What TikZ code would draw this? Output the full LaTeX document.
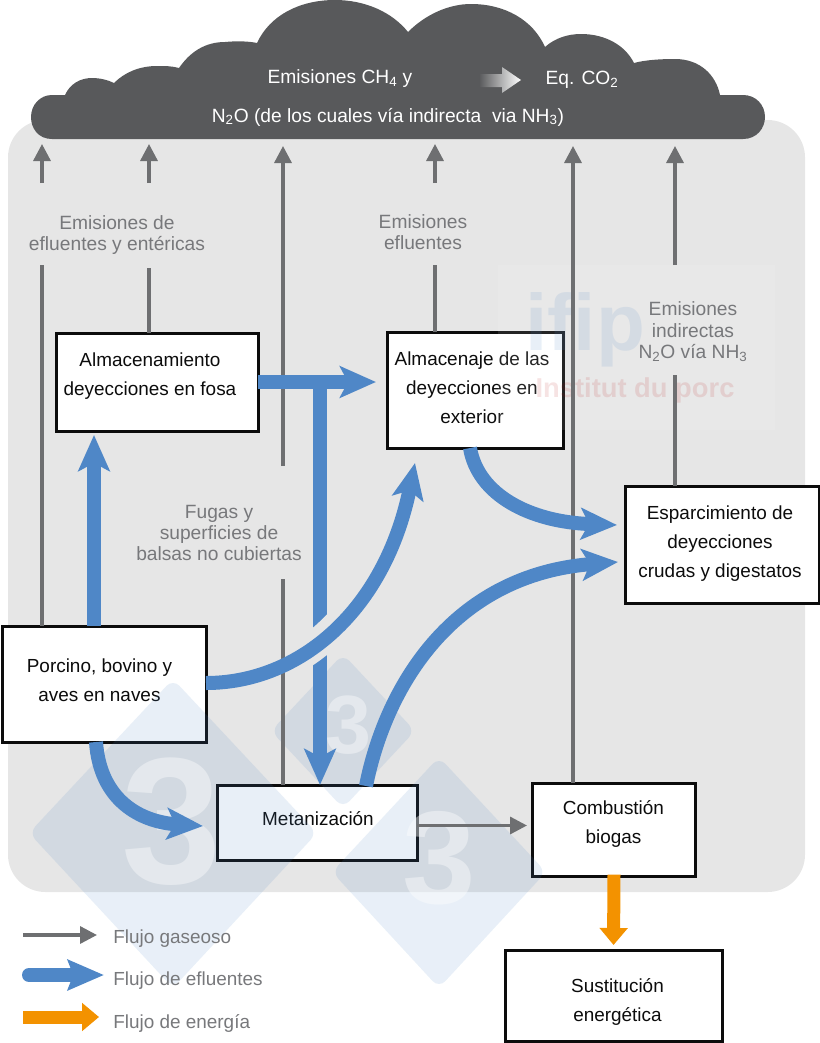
\documentclass[tikz,border=0pt]{standalone}
\usepackage{fontspec}
\setmainfont{Liberation Sans}
\usetikzlibrary{arrows.meta,calc}
\definecolor{bgc}{HTML}{E6E6E6}
\definecolor{cloudc}{HTML}{58595B}
\definecolor{gasc}{HTML}{6E6F71}
\definecolor{labc}{HTML}{77787B}
\definecolor{bluec}{HTML}{4F87C7}
\definecolor{orangec}{HTML}{F39200}
\definecolor{boxc}{HTML}{0C0C0C}
\newcommand\boxtxt[3]{\hbox{\kern#1\raisebox{#2}[\height][\depth]{\begin{tabular}{@{}c@{}}#3\end{tabular}}\kern-#1}}
\tikzset{
  boxn/.style={draw=boxc,line width=2.25pt,fill=white,inner sep=0pt,outer sep=0pt,text=boxc,
    font=\fontsize{14.2}{21.75}\selectfont},
  lab/.style={text=labc,align=center,inner sep=0pt,font=\fontsize{14.4}{16.1}\selectfont},
  cloudtxt/.style={text=white,inner sep=0pt,font=\fontsize{14.4}{16}\selectfont},
  legtxt/.style={text=labc,anchor=west,inner sep=0pt,font=\fontsize{14.2}{16}\selectfont},
  gas/.style={draw=gasc,line width=2.5pt},
  gasarrow/.style={gas,-{Triangle[length=12.75pt,width=12.75pt]}},
  flow/.style={draw=bluec,line width=10.5pt,-{Stealth[length=27pt,width=23.5pt,inset=6pt]}},
  energy/.style={draw=orangec,line width=9.75pt,-{Triangle[length=12.75pt,width=20.5pt]}},
  wmd/.style={fill=bluec,fill opacity=.13,rounded corners=7pt},
  wmt/.style={text=white,text opacity=.4,inner sep=0pt,font=\bfseries},
}
\begin{document}
\begin{tikzpicture}[x=0.75pt,y=-0.75pt]
\useasboundingbox (0,0) rectangle (820,1043);
% background panel
\fill[bgc,rounded corners=28pt] (8,120) rectangle (805,892);
% cloud
\fill[cloudc] (52,139) .. controls (38,139) and (31,128) .. (31,117)
  .. controls (31,105) and (40,95) .. (52,95) -- (65,95)
  .. controls (70,84) and (80,78) .. (92,78) .. controls (100,78) and (108,80) .. (114,83)
  .. controls (125,72) and (140,66) .. (157,66) .. controls (165,66) and (172,66) .. (179,68)
  .. controls (190,52) and (205,42) .. (225,42) .. controls (235,41) and (248,41) .. (257,43)
  .. controls (270,15) and (300,0) .. (335,0) .. controls (365,0) and (392,12) .. (408,32)
  .. controls (425,15) and (448,4) .. (471,4) .. controls (505,4) and (533,20) .. (545,47)
  .. controls (555,38) and (568,34) .. (581,34) .. controls (605,34) and (625,45) .. (634,63)
  .. controls (645,60) and (660,59) .. (675,59) .. controls (700,59) and (716,75) .. (720,95)
  -- (743,95) .. controls (756,95) and (765,105) .. (765,117)
  .. controls (765,128) and (757,139) .. (743,139) -- cycle;
\node[cloudtxt] (ct1) at (340,79) {Emisiones CH\textsubscript{4} y};
\node[cloudtxt] (ct2) at (582,80) {Eq. CO\textsubscript{2}};
\node[cloudtxt] (ct3) at (388,117) {N\textsubscript{2}O (de los cuales vía indirecta\ \ via NH\textsubscript{3})};
\shade[left color=cloudc,right color=white] (479,74) -- (502,74) -- (502,67) -- (521,80) -- (502,93) -- (502,87) -- (479,87) -- cycle;
% boxes
\node[boxn,minimum width=151.5pt,minimum height=73.5pt] (fosa) at (157,382) {\boxtxt{-5.25pt}{5.25pt}{Almacenamiento\\deyecciones en fosa}};
\node[boxn,minimum width=132pt,minimum height=87pt] (alma) at (475,390) {\boxtxt{-2.25pt}{0.75pt}{Almacenaje de las\\deyecciones en\\exterior}};
\node[boxn,minimum width=145.5pt,minimum height=87.75pt] (espa) at (722,544.5) {\boxtxt{-1.5pt}{1pt}{Esparcimiento de\\deyecciones\\crudas y digestatos}};
\node[boxn,minimum width=153pt,minimum height=87pt] (porc) at (104,684) {\boxtxt{-3.4pt}{1.9pt}{Porcino, bovino y\\aves en naves}};
\node[boxn,minimum width=150pt,minimum height=56.25pt] (meta) at (317,822.5) {\boxtxt{0.75pt}{1.9pt}{Metanización}};
\node[boxn,minimum width=122.25pt,minimum height=69.75pt] (comb) at (613.5,829.5) {\boxtxt{0pt}{4.5pt}{Combustión\\biogas}};
\node[boxn,minimum width=162.75pt,minimum height=68.25pt] (sust) at (613.5,995.5) {\boxtxt{3pt}{-4pt}{Sustitución\\energética}};
% ifip watermark
\fill[white,opacity=.1] (498,265) rectangle (775,430);
\node[inner sep=0pt,text=bluec,text opacity=.13,font=\fontsize{60}{60}\selectfont\bfseries] (ifip) at (585,330) {ifip};
\node[inner sep=0pt,text=red!70!black,text opacity=.11,font=\fontsize{20.5}{22}\selectfont\bfseries] (inst) at (635,390) {Institut du porc};
% diamond watermarks
\fill[wmd] (29,833) -- (173,679) -- (317,833) -- (173,988) -- cycle;
\fill[wmd] (271,731) -- (343,654) -- (415,731) -- (343,808) -- cycle;
\fill[wmd] (332,872) -- (439,757) -- (546,872) -- (439,988) -- cycle;
\node[wmt,font=\fontsize{135}{135}\selectfont\bfseries] (w1) at (172,822) {3};
\node[wmt,font=\fontsize{62}{62}\selectfont\bfseries] (w2) at (348,725) {3};
\node[wmt,font=\fontsize{99}{99}\selectfont\bfseries] (w3) at (439,858) {3};
% grey labels
\node[lab] (l1) at (117,235) {Emisiones de\\efluentes y entéricas};
\node[lab] (l2) at (423,232) {Emisiones\\efluentes};
\node[lab] (l3) at (219,533) {Fugas y\\superficies de\\balsas no cubiertas};
\node[lab] (l4) at (693,332) {Emisiones\\indirectas\\N\textsubscript{2}O vía NH\textsubscript{3}};
% gas connectors
\coordinate (c1) at (42,144);   \coordinate (c1a) at (42,183);   \coordinate (c1b) at (42,265);
\coordinate (c2) at (149,144);  \coordinate (c2a) at (149,183);  \coordinate (c2b) at (149,268);
\coordinate (c3) at (283,146);  \coordinate (c3a) at (283,466);  \coordinate (c3b) at (283,579);
\coordinate (c4) at (435,144);  \coordinate (c4a) at (435,183);  \coordinate (c4b) at (435,265);
\coordinate (c5) at (573,146);
\coordinate (c6) at (675,146);  \coordinate (c6a) at (675,265);  \coordinate (c6b) at (675,375);
\draw[gas] (c1 |- porc.north) -- (c1b);
\draw[gasarrow] (c1a) -- (c1);
\draw[gas] (c2 |- fosa.north) -- (c2b);
\draw[gasarrow] (c2a) -- (c2);
\draw[gas] (c3 |- meta.north) -- (c3b);
\draw[gasarrow] (c3a) -- (c3);
\draw[gas] (c4 |- alma.north) -- (c4b);
\draw[gasarrow] (c4a) -- (c4);
\draw[gasarrow] (c5 |- comb.north) -- (c5);
\draw[gas] (c6 |- espa.north) -- (c6b);
\draw[gasarrow] (c6a) -- (c6);
\draw[gasarrow,shorten >=3.75pt] ([yshift=-2.25pt]meta.east) -- ([yshift=-2.25pt]meta.east -| comb.west);
% effluent flows
\coordinate (j) at (320,382);
\draw[flow] (j) -- (j |- meta.north);
\begin{scope}
  \clip (300,605) rectangle (340,690);
  \draw[bgc,line width=22.5pt] (porc.east |- 0,683) .. controls (300,683) and (385,610) .. (413,465);
\end{scope}
\draw[flow] (fosa.east |- j) -- (376,382);
\coordinate (t1) at (415,463);
\draw[flow] (porc.east |- 0,683) .. controls (300,683) and (385,610) .. (t1);
\coordinate (f1) at (94,435);
\draw[flow] (f1 |- porc.north) -- (f1);
\coordinate (s1) at (470,448);
\coordinate (t2) at (617,525);
\draw[flow] (s1) .. controls (478,495) and (530,522) .. (t2);
\coordinate (s2) at (366,786);
\coordinate (t3) at (618,562);
\draw[flow] (s2) .. controls (385,690) and (450,575) .. (t3);
\coordinate (s3) at (96,742);
\coordinate (t4) at (203,826);
\draw[flow] (s3) .. controls (100,800) and (140,822) .. (t4);
% energy
\draw[energy,shorten >=3.75pt] ([yshift=1pt]comb.south) ++(0.375pt,0) -- ([yshift=0pt]sust.north);
% legend
\coordinate (la) at (23,935); \coordinate (lb) at (97,935);
\coordinate (lc) at (29,975); \coordinate (ld) at (104,975);
\coordinate (le) at (23,1017); \coordinate (lf) at (99,1017);
\draw[gasarrow] (la) -- (lb);
\draw[flow,line cap=round,-{Stealth[length=27pt,width=22.5pt,inset=4pt]}] (lc) -- (ld);
\draw[energy] (le) -- (lf);
\node[legtxt] (t_a) at (113,939) {Flujo gaseoso};
\node[legtxt] (t_b) at (113,981) {Flujo de efluentes};
\node[legtxt] (t_c) at (113,1023) {Flujo de energía};
\end{tikzpicture}
\end{document}
